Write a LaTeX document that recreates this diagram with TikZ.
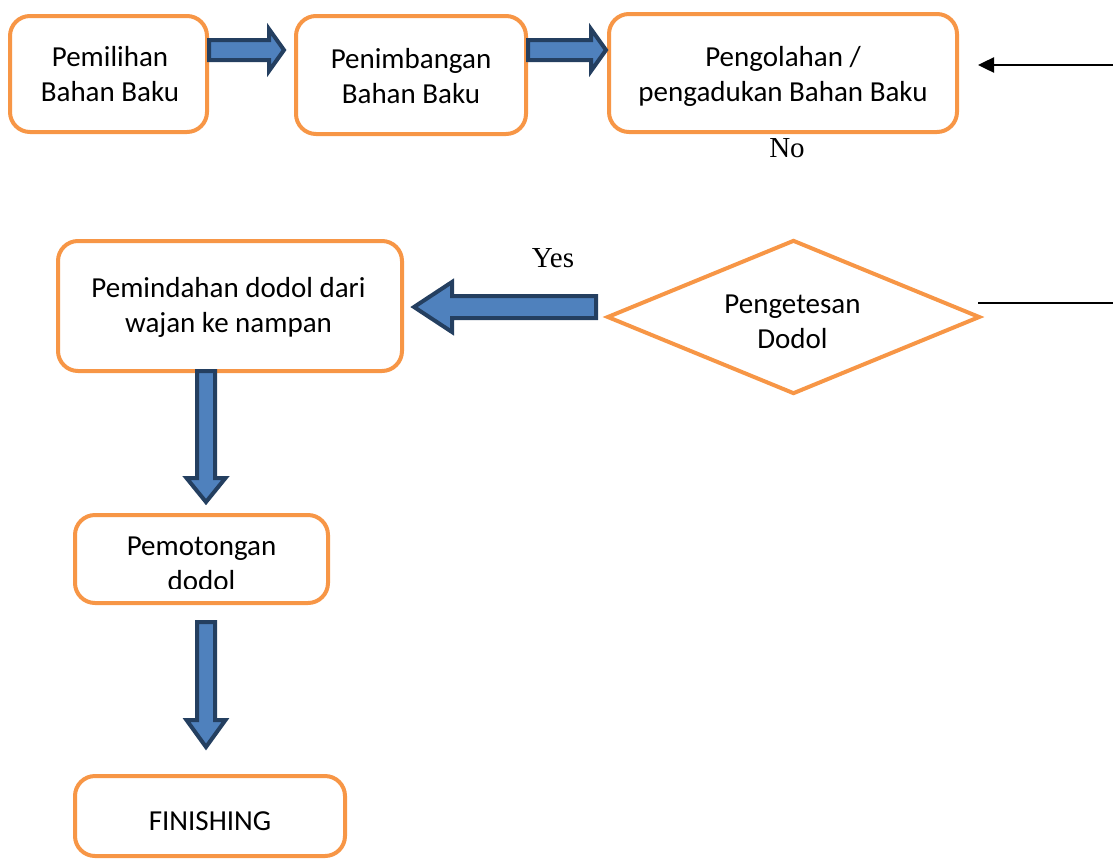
\documentclass[tikz,border=0pt]{standalone}
\usepackage{fontspec}
\setmainfont{Carlito}
\newfontfamily\tnr{Liberation Serif}
\usetikzlibrary{calc,shapes.geometric,arrows.meta}
\definecolor{boxor}{HTML}{F79646}
\definecolor{arrfill}{HTML}{4F81BD}
\definecolor{arrline}{HTML}{243F60}
% #1 start, #2 end, #3 half shaft, #4 half head, #5 head length
\newcommand\fatarrow[5]{%
  \coordinate (fb) at ($(#2)!#5!(#1)$);
  \draw[fatstyle] ($(#1)!#3!90:(#2)$) -- ($(fb)!#3!-90:(#1)$) -- ($(fb)!#4!-90:(#1)$)
    -- (#2) -- ($(fb)!#4!90:(#1)$) -- ($(fb)!#3!90:(#1)$) -- ($(#1)!#3!-90:(#2)$) -- cycle;}
\begin{document}
\begin{tikzpicture}[x=1pt,y=-1pt,
  procbox/.style={draw=boxor,line width=4pt,rounded corners=20pt,inner sep=0pt,fill=white},
  decbox/.style={diamond,draw=boxor,line width=4pt,inner sep=0pt},
  txt/.style={inner sep=0pt,align=center,anchor=base,font=\fontsize{29}{35}\selectfont},
  fatstyle/.style={fill=arrfill,draw=arrline,line width=4pt,line join=miter},
  lbl/.style={font=\tnr\fontsize{29}{34}\selectfont,inner sep=0pt},
  thinline/.style={draw=black,line width=2pt}]
\useasboundingbox (0,0) rectangle (1113,860);

% process boxes
\node[procbox,minimum width=197pt,minimum height=116pt] (b1) at (108.5,74) {};
\node[procbox,minimum width=230pt,minimum height=118pt] (b2) at (411,75) {};
\node[procbox,minimum width=348pt,minimum height=118pt] (b3) at (783,73) {};
\node[procbox,minimum width=344pt,minimum height=130pt] (b4) at (230,306) {};
\node[procbox,minimum width=253pt,minimum height=88pt] (b5) at (201.5,559) {};
\node[procbox,minimum width=270pt,minimum height=80pt] (b6) at (210,816) {};
% decision
\node[decbox,minimum width=373pt,minimum height=154pt] (d) at (793.5,317) {};

% box texts (anchored at last baseline)
\node[txt] (b1t) at (110,101.5) {Pemilihan\\Bahan Baku};
\node[txt] (b2t) at (411,103) {Penimbangan\\Bahan Baku};
\node[txt] (b3t) at (783,101.7) {Pengolahan /\\pengadukan Bahan Baku};
\node[txt] (b4t) at (228.5,332) {Pemindahan dodol dari\\wajan ke nampan};
\node[txt] (dt) at (792.5,348) {Pengetesan\\Dodol};
\begin{scope}
  \clip (75,515) rectangle (328,588);
  \node[txt] (b5t) at (201.5,590) {Pemotongan\\dodol};
\end{scope}
\node[txt] (b6t) at (210,830) {FINISHING};

% labels
\node[lbl] (no) at (787,148) {No};
\node[lbl] (yes) at (553,258) {Yes};

% fat arrows
\coordinate (ya) at (0,50);
\coordinate (a1s) at (b1.east |- ya);
\coordinate (a1e) at ($(b2.west |- ya)+(-10,0)$);
\fatarrow{a1s}{a1e}{10pt}{21pt}{15pt}
\coordinate (a2s) at (b2.east |- ya);
\coordinate (a2e) at ($(b3.west |- ya)+(-1,0)$);
\fatarrow{a2s}{a2e}{10pt}{21pt}{15pt}

\coordinate (a3s) at ($(d.west)+(-9,-10)$);
\coordinate (a3e) at ($(b4.east |- a3s)+(10,0)$);
\fatarrow{a3s}{a3e}{11pt}{25pt}{38pt}

\coordinate (a4s) at (206,371);
\coordinate (a4e) at ($(b5.north -| a4s)+(0,-11)$);
\fatarrow{a4s}{a4e}{9pt}{19.5pt}{24pt}

\coordinate (a5s) at ($(b5.south -| a4s)+(0,17)$);
\coordinate (a5e) at ($(b6.north -| a4s)+(0,-27)$);
\fatarrow{a5s}{a5e}{9pt}{19.5pt}{27pt}

% feedback lines
\coordinate (r1) at (1113,65);
\coordinate (b3in) at ($(b3.east |- r1)+(19,0)$);
\draw[line width=2.5pt,-{Triangle[length=16pt,width=15pt]}] (r1) -- (b3in);
\coordinate (r2) at (1113,303);
\coordinate (dout) at ($(d.east |- r2)+(-4,0)$);
\draw[thinline] (dout) -- (r2);
\end{tikzpicture}
\end{document}
